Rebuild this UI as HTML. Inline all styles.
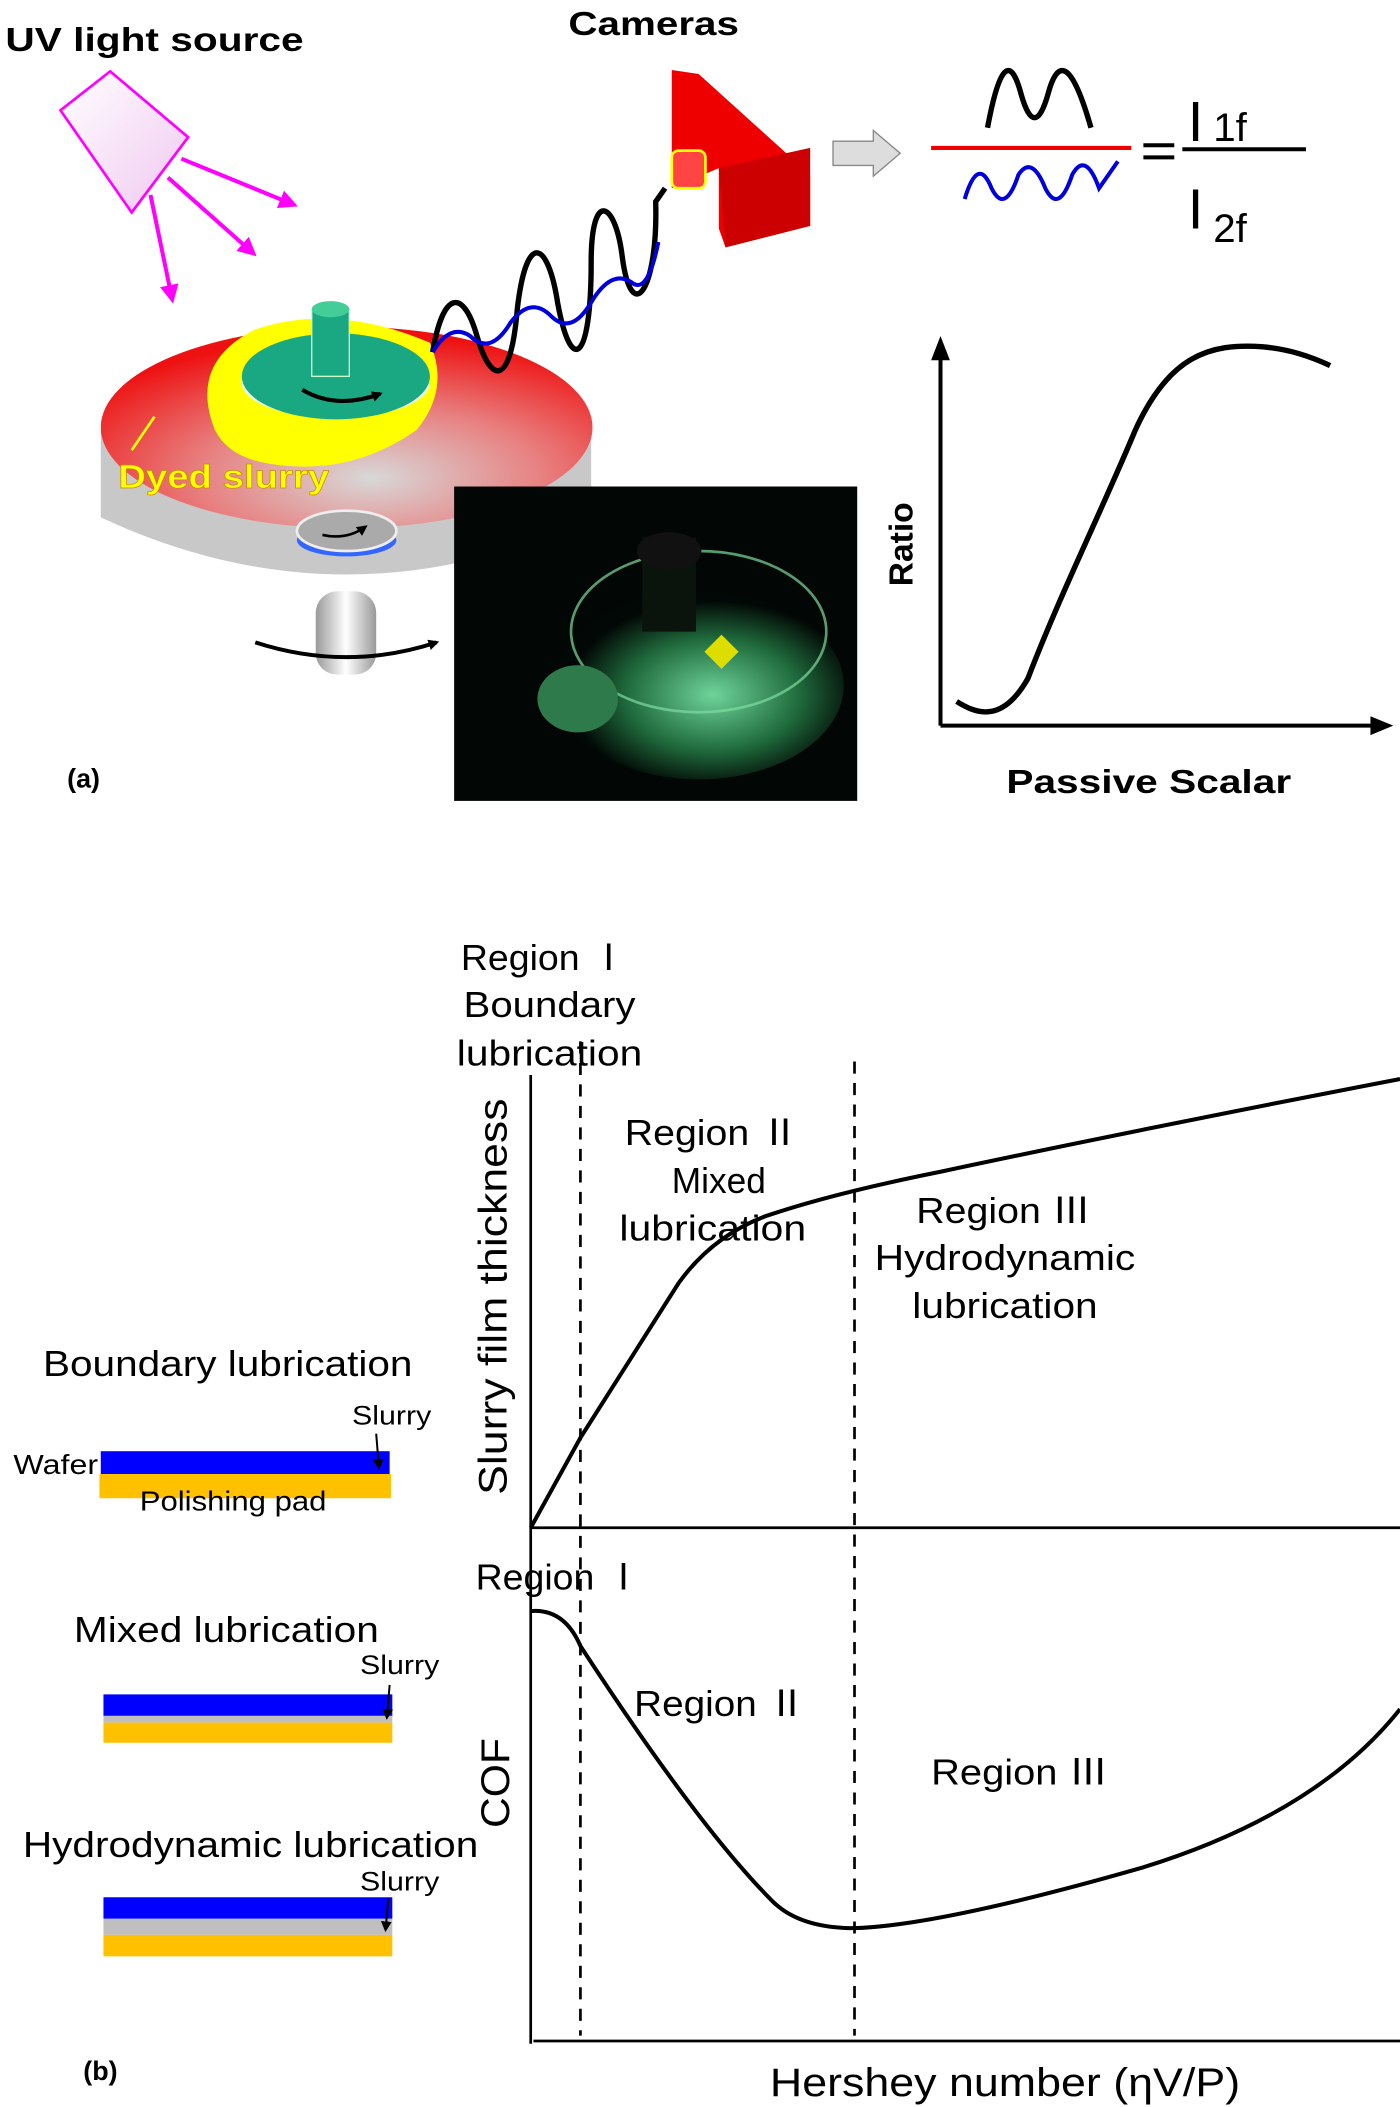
<!DOCTYPE html>
<html><head><meta charset="utf-8"><style>
html,body{margin:0;padding:0;background:#fff;}
svg{display:block;}
text{font-family:"Liberation Sans","Noto Sans CJK JP",sans-serif;}
</style></head><body>
<svg width="1400" height="2107" viewBox="0 0 1042 1568" xmlns="http://www.w3.org/2000/svg">
<defs>
<radialGradient id="disc" cx="0.55" cy="0.75" r="0.7">
<stop offset="0" stop-color="#d8d8d8"/><stop offset="0.5" stop-color="#e88080"/><stop offset="1" stop-color="#ee1111"/></radialGradient>
<linearGradient id="trap" x1="0" y1="0" x2="1" y2="1"><stop offset="0" stop-color="#fff"/><stop offset="1" stop-color="#f0c8f0"/></linearGradient>
<radialGradient id="glow" cx="0.55" cy="0.55" r="0.5"><stop offset="0" stop-color="#6fd49a"/><stop offset="0.6" stop-color="#1f6a3c"/><stop offset="1" stop-color="#020805"/></radialGradient>
<linearGradient id="shaft" x1="0" x2="1"><stop offset="0" stop-color="#999"/><stop offset="0.5" stop-color="#fff"/><stop offset="1" stop-color="#999"/></linearGradient>
<marker id="ah" markerWidth="8" markerHeight="8" refX="6" refY="4" orient="auto" markerUnits="userSpaceOnUse"><path d="M0,0 L8,4 L0,8 z" fill="#000"/></marker>
<marker id="mh" markerWidth="14" markerHeight="14" refX="10" refY="7" orient="auto" markerUnits="userSpaceOnUse"><path d="M0,0 L14,7 L0,14 z" fill="#f0f"/></marker>
</defs>

<!-- (a) -->
<text x="4" y="38" font-size="25" font-weight="bold" textLength="222" lengthAdjust="spacingAndGlyphs">UV light source</text>
<polygon points="45,82 82,53 140,102 98,158" fill="url(#trap)" stroke="#f0f" stroke-width="2"/>
<g stroke="#f0f" stroke-width="3" fill="none" marker-end="url(#mh)">
<line x1="135" y1="118" x2="218" y2="152"/><line x1="125" y1="132" x2="188" y2="188"/><line x1="112" y1="145" x2="128" y2="222"/></g>
<text x="423" y="26" font-size="25" font-weight="bold" textLength="127" lengthAdjust="spacingAndGlyphs">Cameras</text>
<!-- camera -->
<polygon points="500,52 520,55 603,130 603,168 540,184 535,170 535,125 500,140" fill="#e00"/>
<polygon points="535,125 603,110 603,168 540,184" fill="#c00"/>
<rect x="500" y="112" width="25" height="28" fill="#f44" stroke="#ff0" stroke-width="2" rx="5"/>
<!-- grey arrow -->
<polygon points="620,105 650,105 650,97 670,114 650,131 650,123 620,123" fill="#ddd" stroke="#888"/>
<!-- ratio formula -->
<path d="M735,95 Q748,25 760,70 Q770,105 780,70 Q792,25 812,95" fill="none" stroke="#000" stroke-width="4"/>
<line x1="693" y1="110" x2="842" y2="110" stroke="#e00" stroke-width="3"/>
<path d="M718,148 Q728,115 738,140 Q748,160 758,130 Q768,115 778,140 Q788,160 798,130 Q808,112 818,140 L832,120" fill="none" stroke="#00d" stroke-width="3"/>
<line x1="851" y1="108" x2="874" y2="108" stroke="#000" stroke-width="3"/><line x1="851" y1="117" x2="874" y2="117" stroke="#000" stroke-width="3"/>
<line x1="880" y1="111" x2="972" y2="111" stroke="#000" stroke-width="3"/>
<text x="884" y="105" font-size="42">I</text><text x="903" y="105" font-size="30">1f</text>
<text x="884" y="170" font-size="42">I</text><text x="903" y="180" font-size="30">2f</text>
<!-- disc -->
<path d="M75,320 L75,385 Q258,470 440,385 L440,320 Z" fill="#c8c8c8"/>
<rect x="235" y="440" width="45" height="62" rx="16" fill="url(#shaft)"/>
<ellipse cx="258" cy="318" rx="183" ry="75" fill="url(#disc)"/>
<path d="M160,320 Q140,270 190,245 Q250,225 320,255 Q335,290 310,320 Q260,355 200,345 Q170,340 160,320 Z" fill="#ff0"/>
<ellipse cx="250" cy="285" rx="70" ry="26" fill="#e8f8f0"/>
<ellipse cx="250" cy="280" rx="70" ry="32" fill="#1aa883"/>
<rect x="232" y="230" width="28" height="50" fill="#1aa883" stroke="#cfc"/><ellipse cx="246" cy="230" rx="14" ry="6" fill="#4c9"/>
<path d="M225,290 Q250,305 283,293" fill="none" stroke="#000" stroke-width="3" marker-end="url(#ah)"/>
<line x1="98" y1="335" x2="115" y2="310" stroke="#ff0" stroke-width="2"/>
<text x="88" y="363" font-size="25" font-weight="bold" fill="#ff0" stroke="#c80" stroke-width="0.5" textLength="157" lengthAdjust="spacingAndGlyphs">Dyed slurry</text>
<ellipse cx="258" cy="402" rx="37" ry="12" fill="#36f"/>
<ellipse cx="258" cy="395" rx="37" ry="15" fill="#aaa" stroke="#eee" stroke-width="2"/>
<path d="M240,398 Q258,402 272,392" fill="none" stroke="#000" stroke-width="2" marker-end="url(#ah)"/>
<path d="M190,478 Q258,500 325,478" fill="none" stroke="#000" stroke-width="3" marker-end="url(#ah)"/>
<!-- waves -->
<path d="M322,262 C330,215 345,215 355,250 C365,285 380,290 385,230 C392,170 408,180 415,225 C425,280 440,270 440,195 C440,140 458,150 463,190 C470,245 490,215 488,150 L495,140" fill="none" stroke="#000" stroke-width="4"/>
<path d="M322,262 Q335,240 350,250 Q365,265 380,240 Q395,220 410,235 Q425,250 440,225 Q455,200 470,210 Q482,220 490,180" fill="none" stroke="#00d" stroke-width="3"/>
<!-- photo -->
<rect x="338" y="362" width="300" height="234" fill="#020604"/>
<ellipse cx="520" cy="510" rx="108" ry="70" fill="url(#glow)"/>
<ellipse cx="520" cy="470" rx="95" ry="60" fill="none" stroke="#7fdc9f" stroke-width="2" opacity="0.7"/>
<ellipse cx="430" cy="520" rx="30" ry="25" fill="#2f7a4a"/>
<rect x="478" y="400" width="40" height="70" fill="#0a140d"/>
<ellipse cx="498" cy="410" rx="24" ry="14" fill="#111"/>
<rect x="528" y="476" width="18" height="18" fill="#dd0" transform="rotate(45 537 485)"/>
<!-- ratio graph -->
<line x1="700" y1="540" x2="700" y2="262" stroke="#000" stroke-width="3"/><polygon points="693,268 707,268 700,250" fill="#000"/>
<line x1="700" y1="540" x2="1022" y2="540" stroke="#000" stroke-width="3"/><polygon points="1020,533 1020,547 1037,540" fill="#000"/>
<path d="M712,522 C725,530 745,540 765,505 C790,440 820,380 845,320 C870,265 900,255 940,258 C960,260 975,265 990,272" fill="none" stroke="#000" stroke-width="4"/>
<text transform="translate(679,405) rotate(-90)" font-size="25" font-weight="bold" text-anchor="middle">Ratio</text>
<text x="855" y="590" font-size="25" font-weight="bold" text-anchor="middle" textLength="212" lengthAdjust="spacingAndGlyphs">Passive Scalar</text>
<text x="50" y="586" font-size="20" font-weight="bold">(a)</text>

<!-- (b) -->
<g font-size="27">
<text x="343" y="722" textLength="124" lengthAdjust="spacingAndGlyphs">Region Ⅰ</text>
<text x="345" y="757" textLength="128" lengthAdjust="spacingAndGlyphs">Boundary</text>
<text x="340" y="793" textLength="138" lengthAdjust="spacingAndGlyphs">lubrication</text>
<text x="465" y="852" textLength="130" lengthAdjust="spacingAndGlyphs">Region Ⅱ</text>
<text x="500" y="888" textLength="70" lengthAdjust="spacingAndGlyphs">Mixed</text>
<text x="461" y="923" textLength="139" lengthAdjust="spacingAndGlyphs">lubrication</text>
<text x="682" y="910" textLength="130" lengthAdjust="spacingAndGlyphs">Region Ⅲ</text>
<text x="651" y="945" textLength="194" lengthAdjust="spacingAndGlyphs">Hydrodynamic</text>
<text x="679" y="981" textLength="138" lengthAdjust="spacingAndGlyphs">lubrication</text>
<text x="354" y="1183" textLength="124" lengthAdjust="spacingAndGlyphs">Region Ⅰ</text>
<text x="472" y="1277" textLength="128" lengthAdjust="spacingAndGlyphs">Region Ⅱ</text>
<text x="693" y="1328" textLength="132" lengthAdjust="spacingAndGlyphs">Region Ⅲ</text>
</g>
<line x1="395" y1="800" x2="395" y2="1521" stroke="#000" stroke-width="2"/>
<line x1="395" y1="1137" x2="1042" y2="1137" stroke="#000" stroke-width="2"/>
<line x1="397" y1="1519" x2="1042" y2="1519" stroke="#000" stroke-width="2"/>
<g stroke="#000" stroke-width="2" stroke-dasharray="9,7"><line x1="432" y1="775" x2="432" y2="1515"/><line x1="636" y1="790" x2="636" y2="1515"/></g>
<path d="M395,1137 L432,1070 Q470,1010 505,955 Q530,920 570,905 Q620,888 700,872 Q850,840 1042,803" fill="none" stroke="#000" stroke-width="3"/>
<path d="M395,1199 Q420,1197 432,1225 Q520,1360 575,1415 Q595,1435 636,1435 Q700,1433 850,1390 Q980,1350 1042,1272" fill="none" stroke="#000" stroke-width="3"/>
<text transform="translate(377,965) rotate(-90)" font-size="30" text-anchor="middle" textLength="295" lengthAdjust="spacingAndGlyphs">Slurry film thickness</text>
<text transform="translate(379,1327) rotate(-90)" font-size="30" text-anchor="middle" textLength="67" lengthAdjust="spacingAndGlyphs">COF</text>
<text x="573" y="1560" font-size="30" textLength="350" lengthAdjust="spacingAndGlyphs">Hershey number (ηV/P)</text>
<text x="62" y="1548" font-size="20" font-weight="bold">(b)</text>

<g font-size="27">
<text x="32" y="1024" textLength="275" lengthAdjust="spacingAndGlyphs">Boundary lubrication</text>
<text x="55" y="1222" textLength="227" lengthAdjust="spacingAndGlyphs">Mixed lubrication</text>
<text x="17" y="1382" textLength="339" lengthAdjust="spacingAndGlyphs">Hydrodynamic lubrication</text></g>
<rect x="75" y="1080" width="215" height="17" fill="#00f"/><rect x="74" y="1097" width="217" height="18" fill="#ffc000"/>
<text x="10" y="1097" font-size="21" textLength="63" lengthAdjust="spacingAndGlyphs">Wafer</text>
<text x="104" y="1124" font-size="21" textLength="139" lengthAdjust="spacingAndGlyphs">Polishing pad</text>
<text x="262" y="1060" font-size="20" textLength="59" lengthAdjust="spacingAndGlyphs">Slurry</text><line x1="280" y1="1067" x2="282" y2="1092" stroke="#000" stroke-width="1.5" marker-end="url(#ah)"/>
<rect x="77" y="1261" width="215" height="16" fill="#00f"/><rect x="77" y="1277" width="215" height="5" fill="#bfbfbf"/><rect x="77" y="1282" width="215" height="15" fill="#ffc000"/>
<text x="268" y="1246" font-size="20" textLength="59" lengthAdjust="spacingAndGlyphs">Slurry</text><line x1="290" y1="1254" x2="288" y2="1278" stroke="#000" stroke-width="1.5" marker-end="url(#ah)"/>
<rect x="77" y="1412" width="215" height="16" fill="#00f"/><rect x="77" y="1428" width="215" height="12" fill="#bfbfbf"/><rect x="77" y="1440" width="215" height="16" fill="#ffc000"/>
<text x="268" y="1407" font-size="20" textLength="59" lengthAdjust="spacingAndGlyphs">Slurry</text><line x1="289" y1="1413" x2="287" y2="1436" stroke="#000" stroke-width="1.5" marker-end="url(#ah)"/>
</svg>
</body></html>
